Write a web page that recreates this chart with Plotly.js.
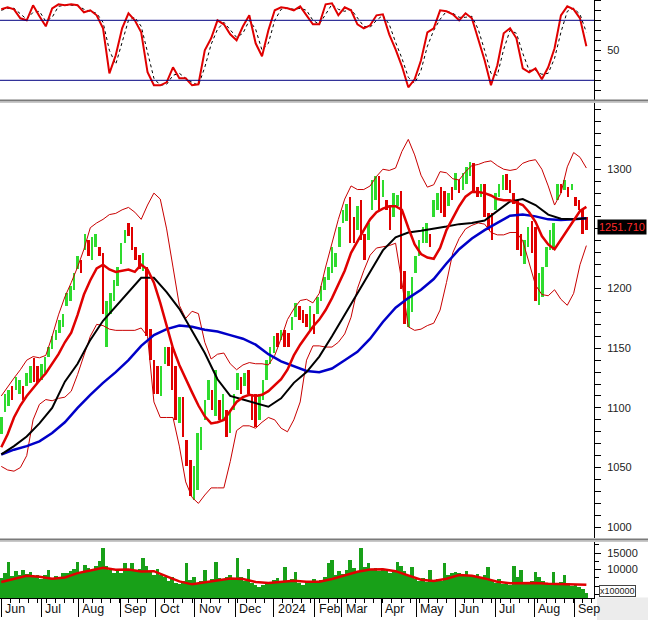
<!DOCTYPE html>
<html><head><meta charset="utf-8">
<script src="https://cdn.plot.ly/plotly-3.0.0.min.js"></script>
<style>html,body{margin:0;padding:0;background:#fff;}#chart{width:648px;height:620px;}</style>
</head><body><div id="chart"></div>
<script>
// ---- data (x = trading-day index from 1 Jun 2023) ----
const monthStarts = [0,22,42.5,65.5,85,106.5,129,150,172.5,187.5,209,228.5,250,272,293.5,315.5];
const monthLabels = ["Jun","Jul","Aug","Sep","Oct","Nov","Dec","2024","Feb","Mar","Apr","May","Jun","Jul","Aug","Sep"];
const BAR_STEP = 2, LINE_STEP = 3.5, SLOW_STEP = 7;

const high = [1092,1112,1115,1118,1126,1123,1118,1129,1135,1142,
1135,1137,1143,1151,1160,1165,1174,1179,1196,1202,
1213,1227,1224,1246,1241,1243,1246,1235,1230,1190,
1196,1207,1218,1238,1249,1255,1252,1235,1228,1230,
1218,1166,1140,1135,1135,1151,1151,1151,1135,1109,
1109,1073,1056,1051,1079,1084,1107,1123,1115,1132,
1107,1112,1098,1098,1112,1129,1126,1129,1132,1112,
1112,1112,1123,1140,1151,1160,1163,1165,1165,1163,
1176,1188,1185,1182,1179,1185,1179,1193,1202,1210,
1218,1235,1230,1252,1266,1271,1277,1260,1269,1274,
1246,1255,1291,1294,1294,1291,1274,1269,1280,1278,
1282,1215,1198,1210,1227,1241,1252,1255,1246,1274,
1280,1285,1282,1280,1285,1297,1291,1297,1302,1306,
1305,1285,1288,1288,1263,1263,1280,1288,1295,1296,
1291,1280,1274,1246,1241,1252,1257,1252,1213,1218,
1235,1249,1255,1288,1288,1291,1285,1288,1277,1274,
1266,1260];
const low = [1078,1097,1102,1107,1115,1112,1107,1118,1121,1122,
1121,1123,1129,1143,1149,1157,1163,1168,1185,1190,
1199,1216,1213,1232,1227,1224,1235,1227,1179,1151,
1179,1190,1202,1221,1238,1244,1232,1224,1216,1215,
1160,1140,1112,1112,1110,1137,1135,1115,1090,1087,
1076,1051,1026,1023,1031,1065,1090,1107,1098,1093,
1090,1090,1076,1079,1098,1115,1112,1118,1112,1090,
1084,1090,1107,1123,1137,1146,1151,1157,1151,1151,
1165,1176,1174,1171,1168,1165,1162,1179,1190,1199,
1207,1213,1218,1235,1255,1257,1238,1238,1249,1241,
1224,1241,1266,1274,1266,1277,1266,1249,1260,1269,
1200,1170,1168,1180,1213,1227,1238,1238,1235,1260,
1266,1263,1260,1269,1274,1283,1280,1283,1288,1294,
1280,1277,1277,1260,1249,1241,1266,1277,1283,1283,
1280,1271,1232,1227,1221,1235,1230,1190,1186,1193,
1218,1232,1232,1274,1280,1283,1277,1283,1269,1266,
1246,1249];
const close = [1090,1108,1112,1110,1117,1120,1110,1127,1133,1125,
1124,1134,1141,1149,1158,1163,1166,1177,1194,1200,
1211,1218,1215,1243,1229,1240,1241,1229,1182,1183,
1193,1204,1215,1235,1247,1246,1236,1227,1219,1220,
1165,1160,1118,1115,1130,1149,1146,1125,1095,1100,
1080,1055,1030,1035,1075,1082,1104,1118,1102,1110,
1093,1105,1085,1095,1108,1125,1116,1125,1115,1095,
1092,1106,1120,1137,1148,1157,1154,1162,1155,1153,
1174,1185,1178,1174,1172,1181,1168,1190,1199,1208,
1215,1218,1228,1249,1263,1268,1245,1242,1265,1250,
1232,1252,1285,1288,1272,1280,1268,1255,1275,1276,
1215,1178,1190,1205,1222,1238,1241,1244,1238,1271,
1277,1268,1264,1277,1276,1294,1283,1295,1300,1304,
1284,1280,1286,1263,1260,1248,1277,1285,1292,1286,
1283,1273,1238,1230,1236,1248,1236,1196,1200,1212,
1230,1245,1252,1284,1282,1289,1280,1287,1271,1268,
1255,1251.71];
const volume = [7500,9000,12400,8000,9500,8200,9800,8600,9200,7600,
8400,7000,8200,9800,7000,8000,7400,8800,9000,9600,
10200,12400,9200,11300,10400,9600,11000,12500,16500,11000,
9800,9000,9600,8800,11900,9800,11900,9400,10200,13400,
11200,9500,8200,10300,8400,7600,6600,7800,6000,5600,
6400,11900,6800,7600,5800,6600,9800,6200,7200,12400,
7400,6800,7600,8200,7000,13400,7800,6600,10300,6000,
5400,4600,5200,6000,5600,6800,7400,6200,10800,6400,
7000,9300,6000,5400,6600,6200,7000,5800,6800,7600,
11900,12900,8200,9400,8600,9800,12900,10400,9600,16500,
10800,11900,9800,10600,9400,10200,9600,8800,9400,12400,
11000,9600,8400,10800,7200,6600,7400,6200,9800,6800,
7000,6400,11900,8200,8800,9300,9000,8200,9400,8000,
7800,8600,7400,8200,10800,6600,6000,7000,5600,6200,
5400,11000,7600,9800,6200,5800,6400,9300,7800,6400,
5600,6000,9300,5400,6200,8200,5800,5000,5400,4600,
4000,3000];

const ma20 = [1067,1078,1092,1102,1110,1117,1123,1129,1137,1145,
1155,1163,1178,1195,1207,1217,1220,1216,1214,1215,
1216,1214,1220,1216,1205,1188,1168,1150,1136,1124,
1113,1102,1093,1087,1088,1090,1097,1105,1109,1111,
1110,1111,1114,1119,1124,1132,1144,1153,1161,1168,
1174,1182,1192,1203,1215,1230,1240,1249,1258,1264,
1267,1269,1269,1266,1251,1237,1229,1226,1225,1234,
1249,1259,1269,1277,1281,1281,1280,1278,1275,1274,
1274,1272,1270,1264,1256,1244,1237,1233,1241,1248,
1257,1265,1268.5];
const bbUpper = [1110,1118,1125,1132,1140,1143,1142,1144,1160,1178,
1193,1205,1218,1233,1251,1255,1258,1262,1263,1266,
1268,1264,1258,1270,1280,1275,1250,1218,1186,1175,
1181,1179,1155,1141,1145,1146,1137,1132,1136,1138,
1137,1137,1136,1144,1158,1174,1183,1190,1191,1188,
1196,1218,1238,1258,1275,1286,1283,1283,1286,1294,
1300,1299,1301,1315,1325,1312,1295,1285,1287,1298,
1297,1292,1291,1298,1303,1304,1306,1307,1303,1300,
1299,1300,1305,1307,1308,1300,1286,1270,1280,1302,
1314,1310,1301];
const bbLower = [1051,1048,1047,1050,1060,1090,1103,1107,1106,1108,
1109,1114,1128,1145,1160,1170,1169,1166,1165,1165,
1165,1165,1167,1160,1105,1092,1092,1092,1068,1038,
1025,1020,1027,1033,1033,1033,1055,1081,1085,1085,
1083,1088,1092,1090,1083,1080,1090,1105,1140,1152,
1152,1151,1151,1155,1162,1176,1200,1215,1228,1234,
1235,1236,1238,1205,1168,1165,1166,1169,1171,1182,
1205,1230,1242,1250,1253,1255,1254,1247,1245,1245,
1247,1247,1240,1222,1203,1195,1194,1199,1191,1186,
1196,1220,1236];
const ma50 = [1061,1068,1076,1087,1100,1122,1137,1157,1173,1185,
1197,1209,1209,1197,1183,1164,1146,1124,1110,1107,
1104,1101,1108,1121,1130,1143,1160,1178,1196,1214,
1232,1243,1247,1248.5,1250,1252,1254,1255,1257,1265,
1273,1275,1270,1262,1258.5,1258,1259];
const ma100 = [1061,1065,1068,1072,1079,1088,1100,1111,1121,1130,
1140,1152,1161,1166,1169,1168,1165.5,1164,1161,1158,
1153,1145,1139,1135,1131,1130,1133,1140,1147,1158,
1172,1184,1192,1199,1208,1221,1233,1242,1249,1255,
1261,1262,1260.5,1258,1257.5,1258,1259];
const volumeMA = [6200,7200,8100,7800,7200,7600,8900,9700,10500,9900,
10000,9400,9500,7900,6400,5500,6100,6900,7300,7100,
6200,5900,6300,6600,6300,6300,7100,8300,9300,10000,
10100,9500,8300,6900,6500,7200,8300,8100,7300,6300,
5800,5900,5900,5700,5650,5550,5400];
const stochK = [91,93,91,82,80,95,84,74,92,96,
95,96,95,88,90,85,72,27,45,72,
87,80,68,28,15,15,18,33,22,22,
15,16,50,62,80,76,66,60,74,85,
57,44,70,90,93,92,90,94,85,76,
76,96,97,85,93,90,76,72,75,85,
86,66,51,34,13,21,40,68,72,90,
89,86,80,87,82,60,40,15,35,67,
72,62,32,28,32,21,33,52,85,94,
91,82,54];
const stochD = [90,92,92,86,81,88,89,79,83,94,
95,95,95,91,89,87,78,50,36,58,
80,83,74,48,22,15,16,25,27,22,
18,15,33,56,71,78,71,63,67,80,
71,50,57,80,91,92,91,92,90,80,
76,86,96,91,89,91,83,74,73,80,
85,76,58,42,23,17,30,54,70,81,
89,87,83,83,84,71,50,27,25,51,
70,67,47,30,30,26,27,42,68,89,
92,86,68];
const lastPrice = 1251.71;

// ---- build traces ----
const idx = (arr, step) => arr.map((_, i) => i * step);
const barX = idx(close, BAR_STEP);
const up = {x:[], base:[], y:[]}, dn = {x:[], base:[], y:[]};
close.forEach((c, i) => {
  const prev = i ? close[i-1] : c;
  const t = c >= prev ? up : dn;
  t.x.push(barX[i]); t.base.push(low[i]); t.y.push(high[i] - low[i]);
});
const lineX = idx(ma20, LINE_STEP);
const slowX = idx(ma50, SLOW_STEP);
const oscX = idx(stochK, LINE_STEP);

const ln = (x, y, ax, color, width, dash) => ({type:'scatter', mode:'lines', x, y, yaxis:ax, xaxis:'x',
  line:{color, width, dash: dash || 'solid'}, hoverinfo:'skip'});

const traces = [
  ln(oscX, stochD, 'y', '#000000', 1, 'dot'),
  ln(oscX, stochK, 'y', '#e00000', 2),
  {type:'bar', x:up.x, y:up.y, base:up.base, width:1.4, yaxis:'y2', xaxis:'x', marker:{color:'#2edb2e', line:{width:0}}, hoverinfo:'skip'},
  {type:'bar', x:dn.x, y:dn.y, base:dn.base, width:1.4, yaxis:'y2', xaxis:'x', marker:{color:'#e00000', line:{width:0}}, hoverinfo:'skip'},
  ln(lineX, bbUpper, 'y2', '#c80000', 1),
  ln(lineX, bbLower, 'y2', '#c80000', 1),
  ln(slowX, ma100, 'y2', '#0000c8', 2.5),
  ln(slowX, ma50, 'y2', '#000000', 2),
  ln(lineX, ma20, 'y2', '#e00000', 2.5),
  {type:'bar', x:barX, y:volume, width:BAR_STEP, yaxis:'y3', xaxis:'x', marker:{color:'#18a018', line:{width:0}}, hoverinfo:'skip'},
  ln(slowX, volumeMA, 'y3', '#e00000', 2.5)
];

const H = 598, W = 594;
const py = p => (H - p) / H;
const axisBase = {side:'right', anchor:'x', showgrid:false, zeroline:false, showline:true, linecolor:'#000', linewidth:1,
  ticks:'outside', ticklen:6, tickcolor:'#000', tickmode:'array', fixedrange:true, ticklabelstandoff:4,
  tickfont:{size:11, color:'#222'}};

const shapes = [
  {type:'line', xref:'paper', x0:0, x1:1, yref:'y', y0:80, y1:80, line:{color:'#000080', width:1}},
  {type:'line', xref:'paper', x0:0, x1:1, yref:'y', y0:20, y1:20, line:{color:'#000080', width:1}},
  {type:'line', xref:'paper', x0:0, x1:648/W, yref:'paper', y0:py(100.5), y1:py(100.5), line:{color:'#7a7a7a', width:2}},
  {type:'line', xref:'paper', x0:0, x1:648/W, yref:'paper', y0:py(102.5), y1:py(102.5), line:{color:'#c8c8c8', width:1}},
  {type:'line', xref:'paper', x0:0, x1:648/W, yref:'paper', y0:py(539.5), y1:py(539.5), line:{color:'#7a7a7a', width:2}},
  {type:'line', xref:'paper', x0:0, x1:648/W, yref:'paper', y0:py(541.5), y1:py(541.5), line:{color:'#c8c8c8', width:1}},
  {type:'rect', xref:'paper', x0:597/W, x1:648/W, yref:'paper', y0:py(620), y1:py(597.5), fillcolor:'#ececec', line:{width:0}}
];

const annotations = monthLabels.map((t, i) => ({xref:'x', x:monthStarts[i] + 1, xanchor:'left', yref:'paper', y:py(609), yanchor:'middle',
  text:t, showarrow:false, font:{size:12.5, color:'#111'}}));
annotations.push({xref:'paper', x:597/W, xanchor:'left', yref:'y2', y:lastPrice, yanchor:'middle', text:lastPrice.toFixed(3),
  showarrow:false, bgcolor:'#000', font:{size:11, color:'#ff2a2a'}, borderpad:1});
annotations.push({xref:'paper', x:599/W, xanchor:'left', yref:'paper', y:py(591), yanchor:'middle', text:'x100000',
  showarrow:false, bgcolor:'#fff', bordercolor:'#444', borderwidth:1, borderpad:0, font:{size:9, color:'#222'}});

// 1250 and 5000 labels sit behind the price box / unit box, as in the original
const mainTicks = [1000,1050,1100,1150,1200,1250,1300];
const mainText = mainTicks.map(v => v === 1250 ? '' : String(v));
const layout = {
  width:648, height:620, margin:{l:0, r:54, t:0, b:22, pad:0},
  paper_bgcolor:'#fff', plot_bgcolor:'#fff', showlegend:false, barmode:'overlay', bargap:0,
  font:{family:'"Liberation Sans", Arial, sans-serif', size:11, color:'#222'},
  xaxis:{range:[-0.7, 326.2], anchor:'y3', showgrid:false, zeroline:false, showline:true, linecolor:'#000', linewidth:1,
    ticks:'outside', tickmode:'array', tickvals:monthStarts, ticklen:18, tickcolor:'#000', showticklabels:false, fixedrange:true,
    minor:{ticks:'outside', tickmode:'linear', tick0:0, dtick:5, ticklen:4, tickcolor:'#000'}},
  yaxis:Object.assign({}, axisBase, {domain:[py(100), 1], range:[0.3, 100.3], tickvals:[50], ticktext:['50'],
    minor:{ticks:'outside', tickmode:'linear', tick0:0, dtick:10, ticklen:6, tickcolor:'#000'}}),
  yaxis2:Object.assign({}, axisBase, {domain:[py(538), py(103)], range:[991, 1355.5], tickvals:mainTicks, ticktext:mainText,
    minor:{ticks:'outside', tickmode:'linear', tick0:1000, dtick:10, ticklen:6, tickcolor:'#000'}}),
  yaxis3:Object.assign({}, axisBase, {domain:[0, py(541)], range:[1364, 18636], tickvals:[5000,10000,15000], ticktext:['','10000','15000'],
    minor:{ticks:'outside', tickmode:'linear', tick0:0, dtick:2500, ticklen:4, tickcolor:'#000'}}),
  shapes, annotations
};
Plotly.newPlot('chart', traces, layout, {staticPlot:true, displayModeBar:false});
</script></body></html>
